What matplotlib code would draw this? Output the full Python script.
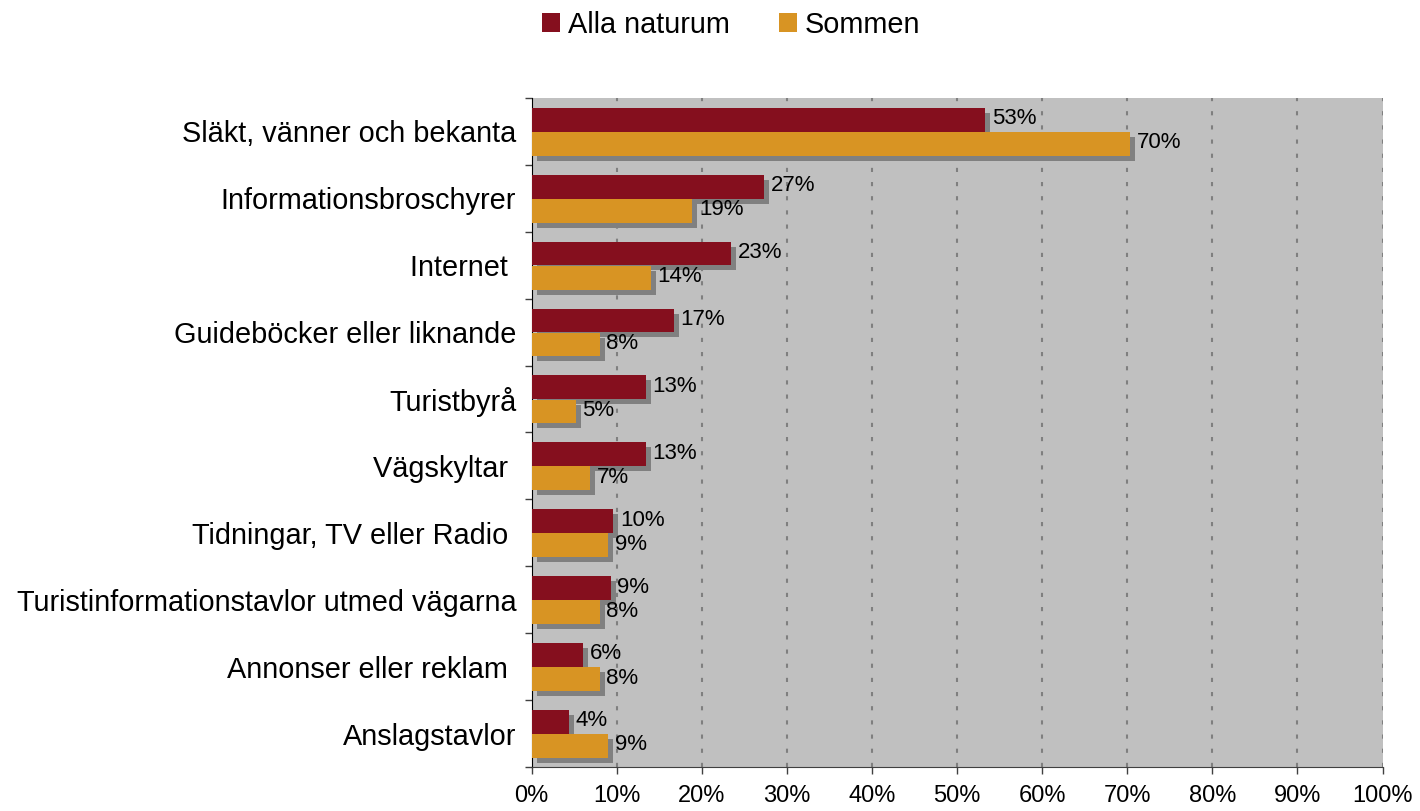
import matplotlib
matplotlib.use("Agg")
import matplotlib.pyplot as plt
import matplotlib.patheffects as pe
from matplotlib.patches import Patch
import numpy as np

plt.rcParams['font.family'] = ['Liberation Sans', 'DejaVu Sans']

categories = ["Släkt, vänner och bekanta", "Informationsbroschyrer", "Internet ",
              "Guideböcker eller liknande", "Turistbyrå", "Vägskyltar ",
              "Tidningar, TV eller Radio ", "Turistinformationstavlor utmed vägarna",
              "Annonser eller reklam ", "Anslagstavlor"]
alla_naturum = [53.3, 27.3, 23.4, 16.7, 13.4, 13.4, 9.6, 9.3, 6.1, 4.4]
sommen = [70.3, 18.9, 14.0, 8.0, 5.2, 6.9, 9.0, 8.0, 8.0, 9.0]
series_names = ["Alla naturum", "Sommen"]
colors = ["#850F1E", "#D89423"]

fig = plt.figure(figsize=(14.2, 8.11), dpi=100)
ax = fig.add_axes([531.5 / 1420, 44 / 811, 851 / 1420, 669 / 811])
ax.set_facecolor("#C0C0C0")

y = np.arange(len(categories))
h = 0.355
shadow = [pe.SimplePatchShadow(offset=(3.6, -3.6), shadow_rgbFace="#808080", alpha=1.0),
          pe.Normal()]

b1 = ax.barh(y - 0.175, alla_naturum, height=h, color=colors[0], zorder=3)
b2 = ax.barh(y + 0.185, sommen, height=h, color=colors[1], zorder=3)
for bars in (b1, b2):
    for p in bars:
        p.set_path_effects(shadow)

for yy, v in zip(y - 0.19, alla_naturum):
    ax.text(v + 0.8, yy, f"{v:.0f}%", va="center", ha="left", fontsize=16, zorder=4)
for yy, v in zip(y + 0.17, sommen):
    ax.text(v + 0.8, yy, f"{v:.0f}%", va="center", ha="left", fontsize=16, zorder=4)

ax.set_xlim(0, 100)
ax.set_ylim(len(categories) - 0.5, -0.5)
ax.set_xticks(np.arange(0, 101, 10))
ax.set_xticklabels([f"{t}%" for t in range(0, 101, 10)], fontsize=17)
ax.set_yticks(y)
ax.set_yticklabels(categories, fontsize=20.8)
ax.set_yticks(np.arange(-0.5, len(categories), 1), minor=True)
ax.tick_params(axis="y", which="major", length=0, pad=11)
ax.tick_params(axis="y", which="minor", length=5, width=1, color="#404040", direction="out")
ax.tick_params(axis="x", which="major", length=5, width=1, color="#404040", direction="out",
               pad=8)

ax.set_axisbelow(True)
ax.grid(axis="x", color="#7F7F7F", linestyle=(0, (2.0, 4.8)), linewidth=1.5, zorder=1)
ax.grid(axis="y", visible=False)
for s in ("top", "right"):
    ax.spines[s].set_visible(False)
ax.spines["left"].set_color("black")
ax.spines["bottom"].set_color("#404040")

handles = [Patch(facecolor=c) for c in colors]
fig.legend(handles=handles, labels=series_names, loc="center",
           bbox_to_anchor=(731 / 1420, 1 - 25 / 811), ncol=2, frameon=False,
           fontsize=20.8, handlelength=0.62, handleheight=0.62, handletextpad=0.28,
           columnspacing=1.7)

fig.savefig("out.png", dpi=100)
